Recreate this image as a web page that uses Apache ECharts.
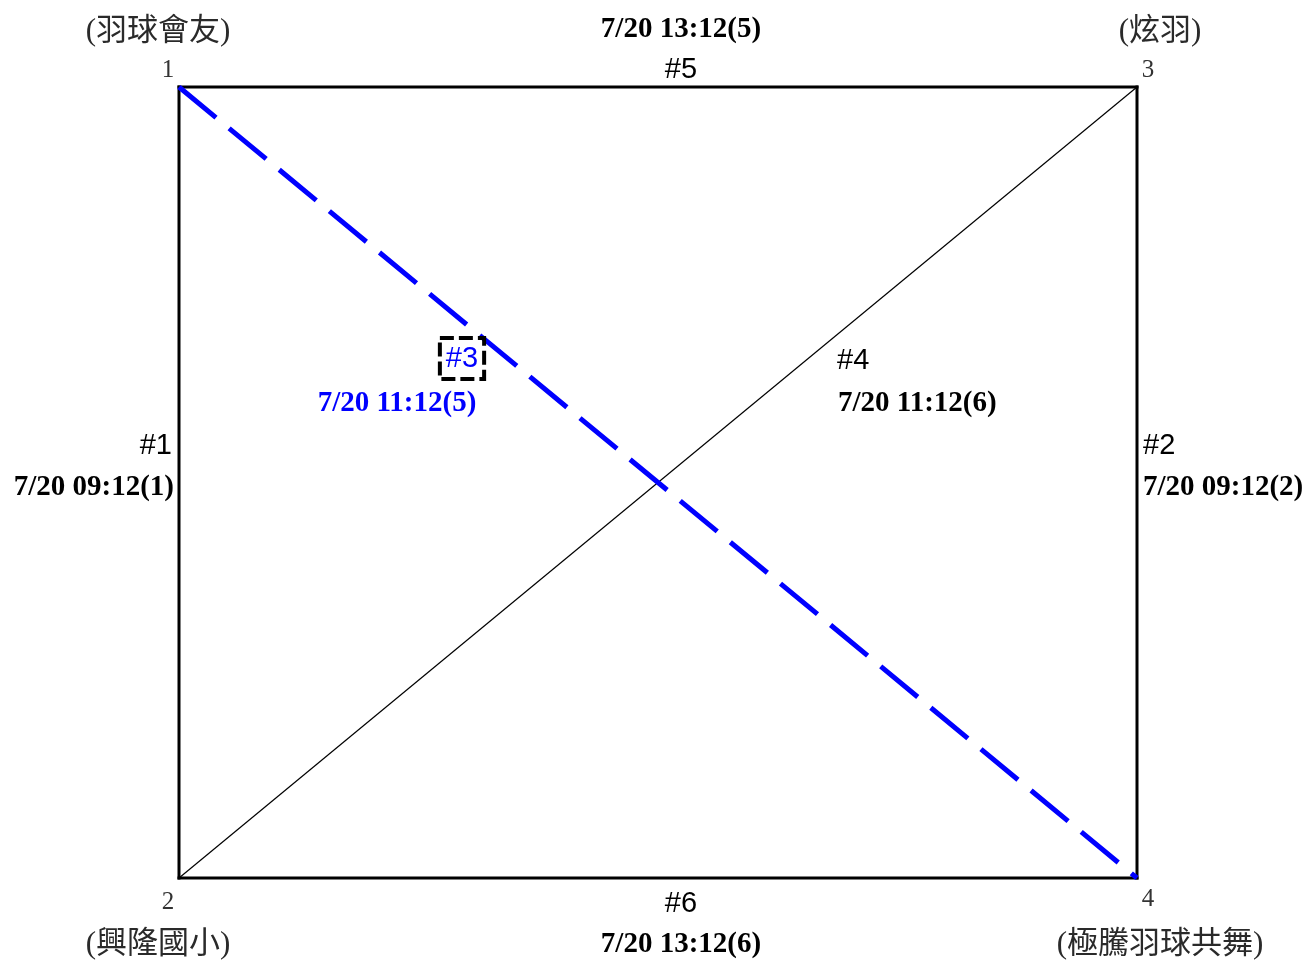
<!DOCTYPE html>
<html>
<head>
<meta charset="utf-8">
<script src="https://cdn.jsdelivr.net/npm/echarts@6/dist/echarts.min.js"></script>
<style>html,body{margin:0;padding:0;background:#fff}#c{width:1307px;height:960px}</style>
</head>
<body>
<div id="c"></div>
<script>
// ---- data ----
var teamNames = ['(羽球會友)', '(興隆國小)', '(炫羽)', '(極騰羽球共舞)'];
var seedLabels = ['1', '2', '3', '4'];
var matchNos = ['#1', '#2', '#3', '#4', '#5', '#6'];
var matchTimes = ['7/20 09:12(1)', '7/20 09:12(2)', '7/20 11:12(5)', '7/20 11:12(6)', '7/20 13:12(5)', '7/20 13:12(6)'];
var matchPairs = [[1, 2], [3, 4], [1, 4], [2, 3], [1, 3], [2, 4]];
var highlightMatch = '#3';

// ---- layout (code) ----
var cornerXY = {1: [0, 1], 2: [0, 0], 3: [1, 1], 4: [1, 0]};
var SERIF = '"Liberation Serif", "Times New Roman", serif';
var CJK = '"Liberation Serif", "Noto Sans CJK TC", serif';
var NARROW = '"Liberation Sans Narrow", "Liberation Sans", Arial, sans-serif';
var BLUE = '#0000ff';

// corner label offsets [seedOffset, nameOffset]
var cornerOffsets = {
  1: [[-11, -17], [-21, -55]],
  2: [[-11, 24], [-21, 67]],
  3: [[11, -17], [23, -55]],
  4: [[11, 21], [23, 67]]
};
// match label offsets: [noOffset, timeOffset, align]
var matchLabelCfg = {
  '#1': [[-7, -37], [-5, 5], 'right'],
  '#2': [[6, -37], [6, 5], 'left'],
  '#3': [[-196, -124], [-261, -79], 'center'],
  '#4': [[179, -122], [180, -79], 'left'],
  '#5': [[23, -17], [23, -57], 'center'],
  '#6': [[23, 26], [23, 67], 'center']
};

var series = [];
// edges / diagonals
matchPairs.forEach(function (p, i) {
  var a = cornerXY[p[0]], b = cornerXY[p[1]];
  var isDiag = (a[0] !== b[0] && a[1] !== b[1]);
  var hl = matchNos[i] === highlightMatch;
  var ls;
  if (hl) ls = {color: BLUE, width: 5, type: [48, 17], cap: 'butt'};
  else if (isDiag) ls = {color: '#000', width: 1.2};
  else ls = {color: '#000', width: 3, cap: 'square'};
  series.push({
    type: 'line', data: [a, b], symbol: 'none', clip: false, silent: true,
    lineStyle: ls, z: hl ? 4 : 3, animation: false
  });
});

// labels
var labelData = [];
seedLabels.forEach(function (s, i) {
  var c = cornerXY[i + 1], off = cornerOffsets[i + 1];
  labelData.push({value: c, label: {formatter: s, offset: off[0], fontFamily: SERIF, fontSize: 25, color: '#333'}});
  labelData.push({value: c, label: {formatter: teamNames[i], offset: off[1], fontFamily: CJK, fontSize: 31, color: '#2a2a2a'}});
});
matchNos.forEach(function (m, i) {
  var a = cornerXY[matchPairs[i][0]], b = cornerXY[matchPairs[i][1]];
  var mid = [(a[0] + b[0]) / 2, (a[1] + b[1]) / 2];
  var cfg = matchLabelCfg[m];
  var hl = m === highlightMatch;
  var noLabel = {formatter: m, offset: cfg[0], align: cfg[2], fontFamily: NARROW, fontSize: 29, color: hl ? BLUE : '#000'};
  if (hl) {
    noLabel.align = 'center';
    noLabel.borderColor = '#000';
    noLabel.borderWidth = 4;
    noLabel.borderType = [14, 5];
    noLabel.padding = [7, 6, 5, 6];
  }
  labelData.push({value: mid, label: noLabel});
  labelData.push({value: mid, label: {formatter: matchTimes[i], offset: cfg[1], align: cfg[2], fontFamily: SERIF, fontWeight: 'bold', fontSize: 29, color: hl ? BLUE : '#000'}});
});
series.push({
  type: 'scatter', data: labelData, symbolSize: 0, silent: true, z: 10, animation: false,
  itemStyle: {opacity: 1},
  label: {show: true, position: 'inside', verticalAlign: 'middle'}
});

var chart = echarts.init(document.getElementById('c'), null, {renderer: 'canvas'});
chart.setOption({
  backgroundColor: '#fff',
  animation: false,
  grid: {left: 179, right: 170, top: 87, bottom: 82},
  xAxis: {type: 'value', min: 0, max: 1, show: false},
  yAxis: {type: 'value', min: 0, max: 1, show: false},
  series: series
});
</script>
</body>
</html>
